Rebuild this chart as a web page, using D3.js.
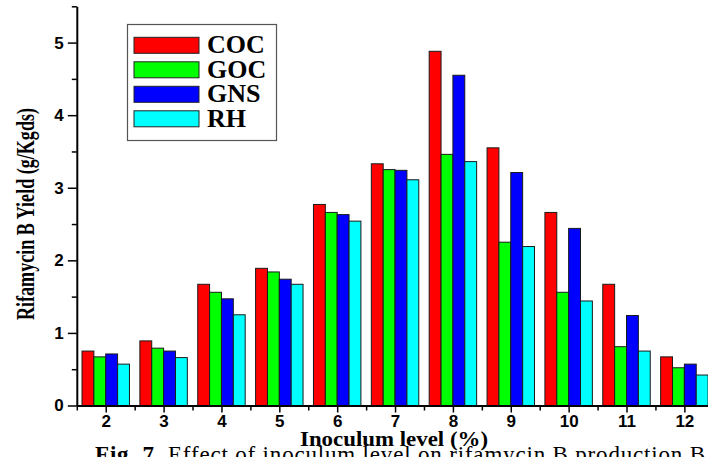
<!DOCTYPE html>
<html lang="en">
<head>
<meta charset="UTF-8">
<script src="https://d3js.org/d3.v7.min.js"></script>
<style>
  body { margin: 0; background: #fff; }
  svg { display: block; }
</style>
</head>
<body>
<svg id="svg1" width="708" height="457"></svg>
<script>
// data
const levels = [2, 3, 4, 5, 6, 7, 8, 9, 10, 11, 12];
const coc = [0.75, 0.89, 1.67, 1.89, 2.77, 3.33, 4.88, 3.55, 2.66, 1.67, 0.67];
const goc = [0.67, 0.79, 1.56, 1.84, 2.66, 3.25, 3.46, 2.25, 1.56, 0.81, 0.52];
const gns = [0.71, 0.75, 1.47, 1.74, 2.63, 3.24, 4.55, 3.21, 2.44, 1.24, 0.57];
const rh  = [0.57, 0.66, 1.25, 1.67, 2.54, 3.11, 3.36, 2.19, 1.44, 0.75, 0.42];
const seriesNames = ["COC", "GOC", "GNS", "RH"];
const seriesColors = ["#ff0000", "#00ff00", "#0000ff", "#00ffff"];
const yTicks = [0, 1, 2, 3, 4, 5];

const series = [coc, goc, gns, rh];
const svg = d3.select("#svg1");

const x0 = 76.8, x1 = 713.3;   // plot left/right (right is past the window edge)
const yBottom = 405.5, yTop = 6.3;

const xLin = d3.scaleLinear().domain([1.5, 12.5]).range([x0, x1]);
const xBand = d3.scaleBand().domain(levels).range([x0, x1])
    .paddingInner(0.18).paddingOuter(0.09);
const xSub = d3.scaleBand().domain(seriesNames).range([0, xBand.bandwidth()]);
const y = d3.scaleLinear().domain([0, 5.5]).range([yBottom, yTop]);

// bars
const chart = svg.append("g");
series.forEach((vals, s) => {
  chart.selectAll(null)
    .data(levels.map((lv, i) => ({lv: lv, v: vals[i]})))
    .enter().append("rect")
      .attr("x", d => xBand(d.lv) + xSub(seriesNames[s]))
      .attr("y", d => y(d.v))
      .attr("width", xSub.bandwidth())
      .attr("height", d => y(0) - y(d.v))
      .attr("fill", seriesColors[s])
      .attr("stroke", "#1a1a1a")
      .attr("stroke-width", 1);
});

// minor ticks
const xMinor = d3.axisBottom(xLin).tickValues(d3.range(1.5, 12.6, 1))
    .tickSize(5).tickFormat("");
svg.append("g").attr("transform", `translate(0,${yBottom})`).call(xMinor)
  .call(g => g.select(".domain").remove())
  .selectAll("line").attr("stroke-width", 1.5);

const yMinor = d3.axisLeft(y).tickValues(d3.range(0.5, 5.6, 1))
    .tickSize(5).tickFormat("");
svg.append("g").attr("transform", `translate(${x0},0)`).call(yMinor)
  .call(g => g.select(".domain").remove())
  .selectAll("line").attr("stroke-width", 1.5);

// main axes
const xAxis = d3.axisBottom(xLin).tickValues(levels).tickSize(7).tickPadding(2)
    .tickSizeOuter(0).tickFormat(d3.format("d"));
const gx = svg.append("g").attr("transform", `translate(0,${yBottom})`).call(xAxis);
gx.select(".domain").attr("stroke-width", 2);
gx.selectAll("line").attr("stroke-width", 1.5);
gx.selectAll("text").attr("font-family", "Liberation Sans, Arial, sans-serif")
  .attr("font-weight", "bold").attr("font-size", 17).attr("fill", "#000");

const yAxis = d3.axisLeft(y).tickValues(yTicks).tickSize(9).tickPadding(4)
    .tickSizeOuter(0).tickFormat(d3.format("d"));
const gy = svg.append("g").attr("transform", `translate(${x0},0)`).call(yAxis);
gy.select(".domain").attr("stroke-width", 2);
gy.selectAll("line").attr("stroke-width", 1.5);
gy.selectAll("text").attr("font-family", "Liberation Sans, Arial, sans-serif")
  .attr("font-weight", "bold").attr("font-size", 17).attr("fill", "#000");

// axis titles
svg.append("text")
  .attr("transform", "translate(34,214) rotate(-90)")
  .attr("text-anchor", "middle")
  .attr("font-family", "Liberation Serif, Times New Roman, serif")
  .attr("font-weight", "bold").attr("font-size", 25)
  .attr("textLength", 212).attr("lengthAdjust", "spacingAndGlyphs")
  .text("Rifamycin B Yield (g/Kgds)");

svg.append("text")
  .attr("x", 394).attr("y", 446)
  .attr("text-anchor", "middle")
  .attr("font-family", "Liberation Serif, Times New Roman, serif")
  .attr("font-weight", "bold").attr("font-size", 21)
  .attr("textLength", 188).attr("lengthAdjust", "spacingAndGlyphs")
  .text("Inoculum level (%)");

// caption, cut off by the bottom edge
const cap = svg.append("text")
  .attr("x", 95).attr("y", 462)
  .attr("font-family", "Liberation Serif, Times New Roman, serif")
  .attr("font-size", 23)
  .attr("textLength", 610).attr("lengthAdjust", "spacing");
cap.append("tspan").attr("font-weight", "bold").text("Fig. 7. ");
cap.append("tspan").text("Effect of inoculum level on rifamycin B production B");

// legend
const legend = svg.append("g");
legend.append("rect")
  .attr("x", 127.5).attr("y", 24.5).attr("width", 149).attr("height", 116)
  .attr("fill", "none").attr("stroke", "#555").attr("stroke-width", 1.2);
seriesNames.forEach((name, i) => {
  const ly = 37.3 + i * 24.5;
  legend.append("rect")
    .attr("x", 134).attr("y", ly).attr("width", 65).attr("height", 16)
    .attr("fill", seriesColors[i]).attr("stroke", "#222").attr("stroke-width", 1);
  legend.append("text")
    .attr("x", 207).attr("y", ly + 16)
    .attr("font-family", "Liberation Serif, Times New Roman, serif")
    .attr("font-weight", "bold").attr("font-size", 26)
    .text(name);
});
</script>
</body>
</html>
